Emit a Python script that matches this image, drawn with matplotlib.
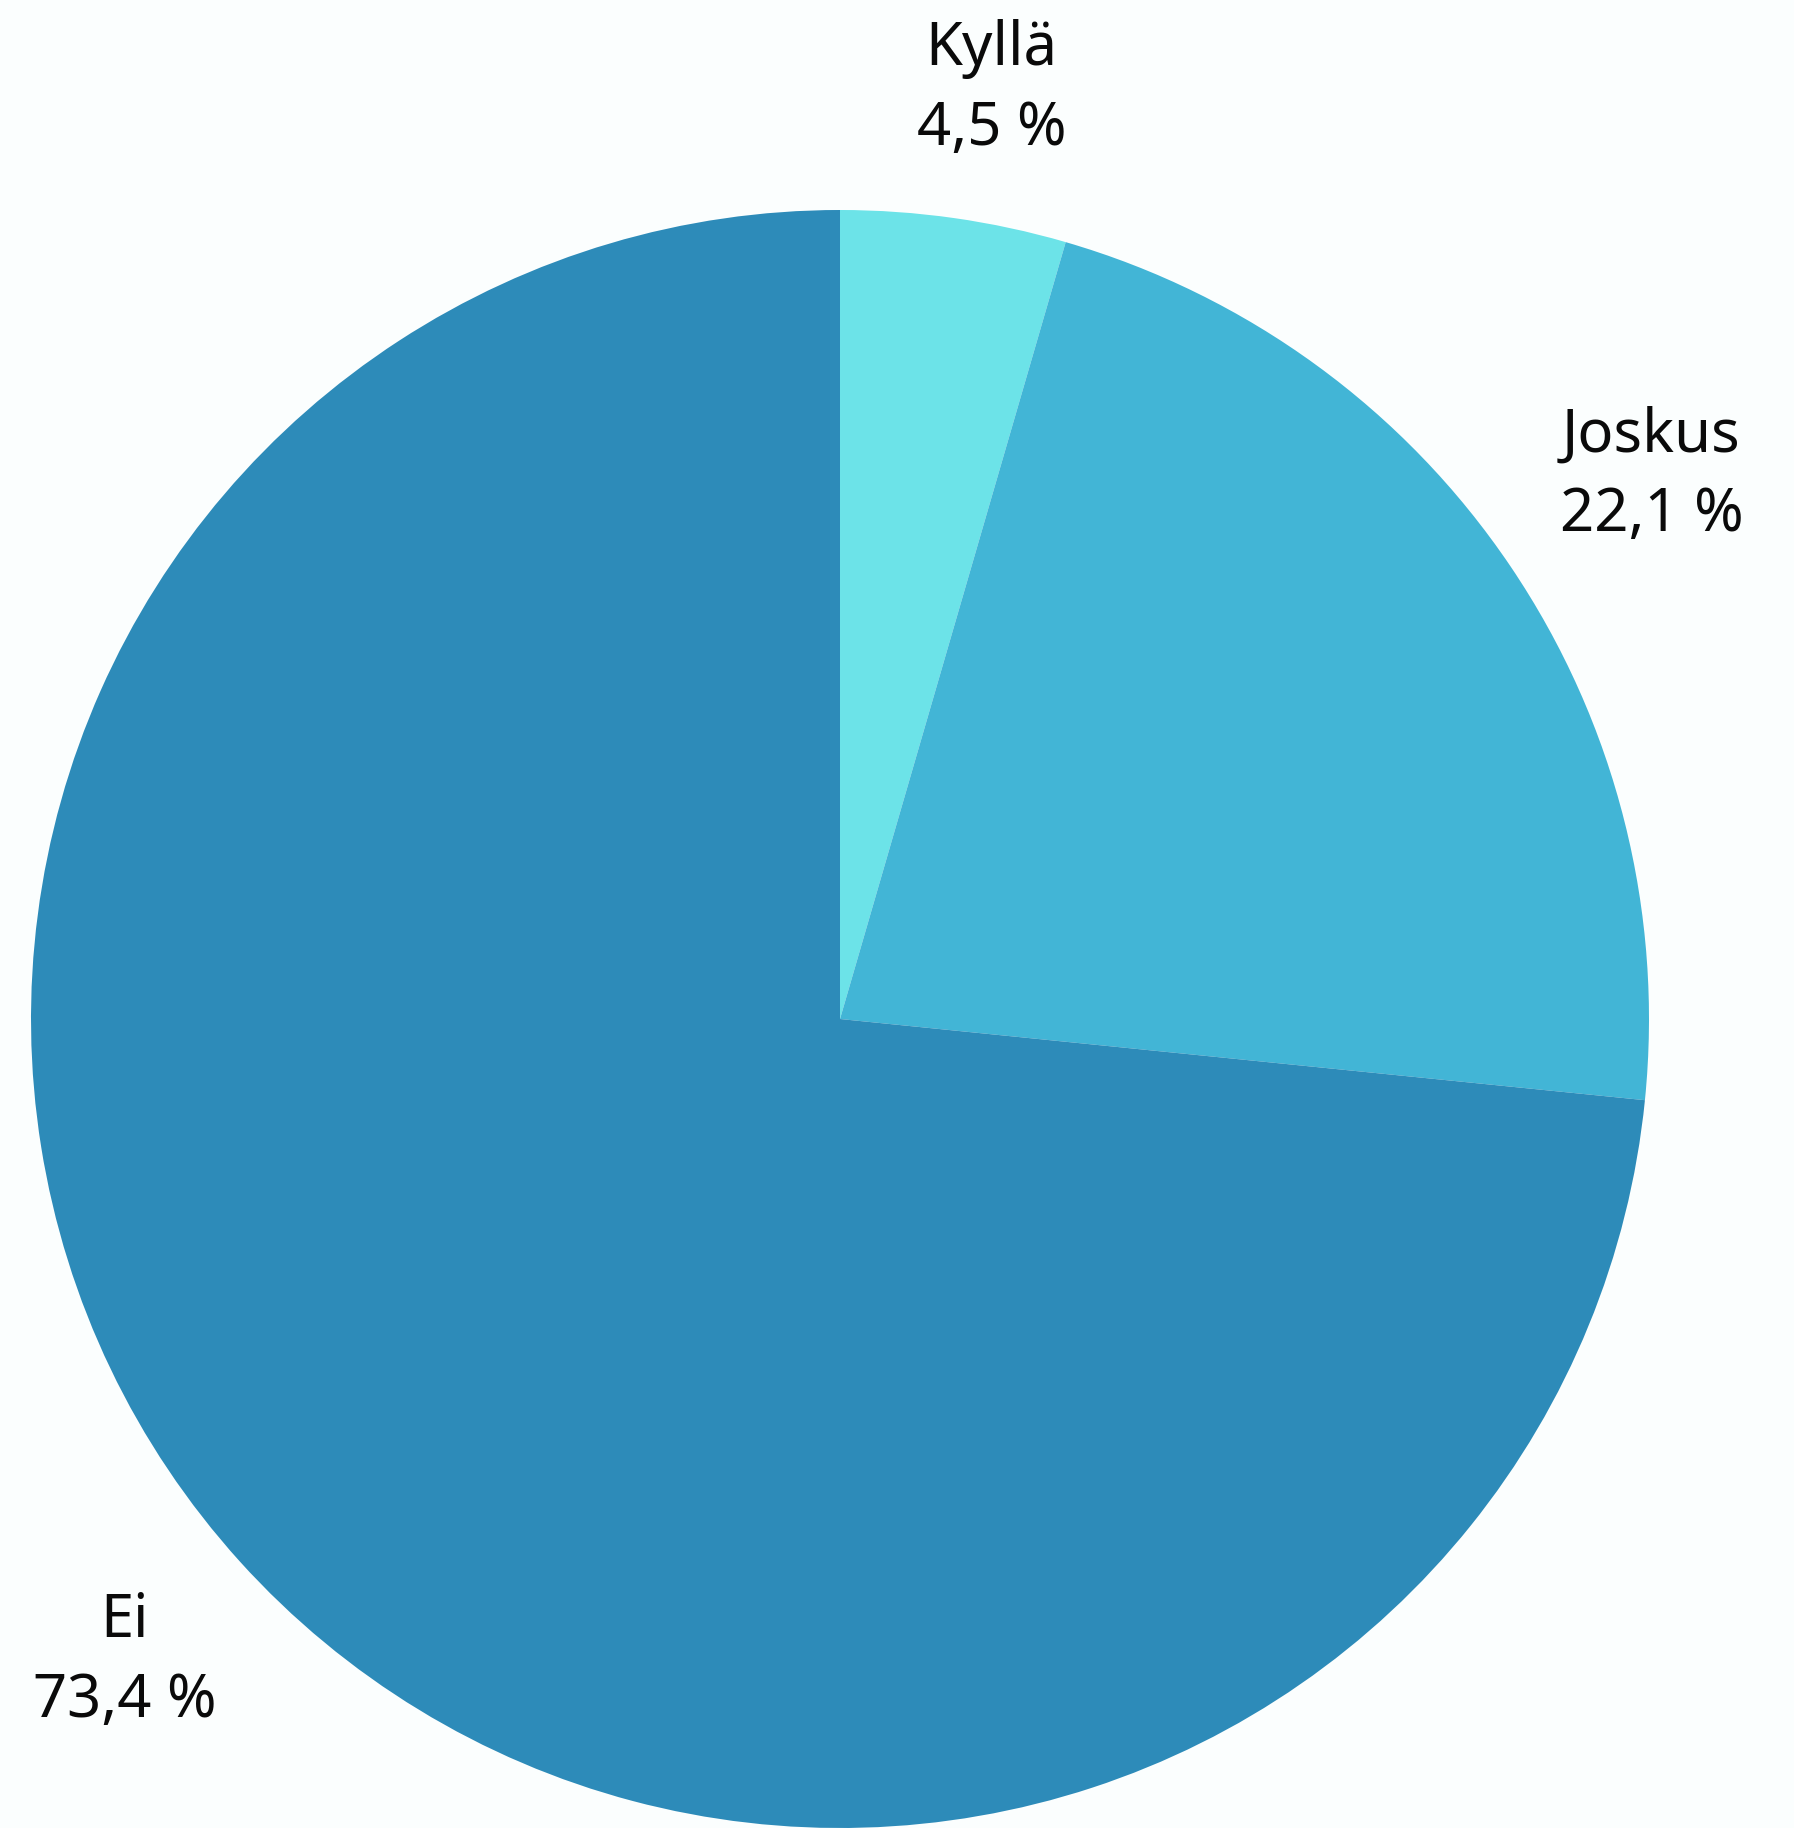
import numpy as np
import matplotlib
matplotlib.use("Agg")
import matplotlib.pyplot as plt

plt.rcParams['font.family'] = ['Noto Sans', 'DejaVu Sans']

labels = ['Kyllä', 'Joskus', 'Ei']
values = [4.5, 22.1, 73.4]
colors = ['#6ce3e8', '#42b5d6', '#2d8bb9']
label_dist = [1.17, 1.21, 1.185]
label_nudge = [-1.1, 0.0, -0.4]  # degrees

BG = '#fbfefe'
W, H = 1794, 1828
cx, cy, R = 840, 1019, 809  # pixel centre/radius of the pie

fig = plt.figure(figsize=(W / 100, H / 100), dpi=100, facecolor=BG)
ax = fig.add_axes([0, 0, 1, 1])
ax.set_facecolor(BG)

wedges, _ = ax.pie(values, colors=colors, startangle=90, counterclock=False,
                   radius=1, wedgeprops=dict(linewidth=0))

for w, name, v, d, n in zip(wedges, labels, values, label_dist, label_nudge):
    ang = np.deg2rad((w.theta1 + w.theta2) / 2 + n)
    txt = f"{name}\n{v:.1f} %".replace('.', ',')
    ax.text(d * np.cos(ang), d * np.sin(ang) - 0.005, txt, ha='center', va='center',
            fontsize=43, linespacing=1.44, color='#0a0a0a')

ax.set_xlim(-cx / R, (W - cx) / R)
ax.set_ylim(-(H - cy) / R, cy / R)
ax.set_aspect('equal')
ax.axis('off')

fig.savefig('out.png', dpi=100, facecolor=BG)
